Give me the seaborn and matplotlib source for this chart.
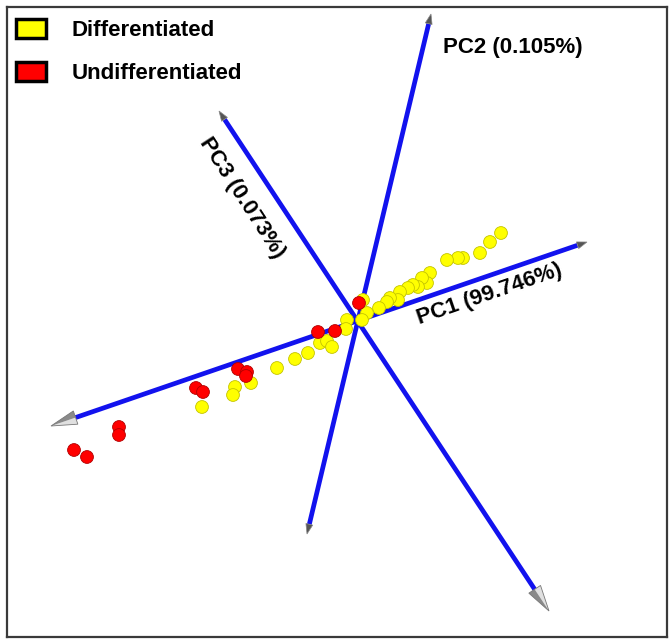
import numpy as np
import pandas as pd
import seaborn as sns
import matplotlib.pyplot as plt
from matplotlib.patches import Patch, Polygon

# --- data: PCA scores projected onto the view plane ---
diff_x = [143, 132, 122, 105, 100, 89, 72, 69, 64, 60, 55, 50, 42, 40, 32, 29, 21, 9, 5, 4,
          -11, -12, -38, -31, -26, -50, -63, -81, -107, -123, -125, -156]
diff_y = [86, 77, 66, 61, 61, 59, 46, 36, 41, 32, 34, 31, 27, 19, 21, 17, 11, 6, 19, -1,
          -1, -10, -24, -22, -28, -34, -40, -49, -64, -68, -76, -88]
undiff_x = [1, -40, -23, -120, -111, -112, -162, -155, -239, -239, -284, -271]
undiff_y = [16, -13, -12, -50, -53, -57, -69, -73, -108, -116, -131, -138]

groups = ["Differentiated", "Undifferentiated"]
group_colors = ["#ffff00", "#ff0000"]

# principal axes: label, positive tip, negative tip (projected)
axis_labels = ["PC1 (99.746%)", "PC2 (0.105%)", "PC3 (0.073%)"]
axis_pos = [(229, 77), (73, 305), (-139, 208)]
axis_neg = [(-307, -107), (-51, -215), (191, -292)]
big_head = [(False, True), (False, False), (False, True)]  # (pos end, neg end)

df = pd.DataFrame({
    "x": diff_x + undiff_x,
    "y": diff_y + undiff_y,
    "group": [groups[0]] * len(diff_x) + [groups[1]] * len(undiff_x),
})

fig = plt.figure(figsize=(6.72, 6.42), dpi=100)
sns.set_theme(style="white")
plt.rcParams["font.family"] = ["Liberation Sans", "DejaVu Sans"]
plt.rcParams["text.color"] = "black"
ax = fig.add_axes([7 / 672, 5 / 642, 660 / 672, 630 / 642])


def arrow_head(tip, direction, length, width, big):
    d = np.asarray(direction, float)
    d /= np.linalg.norm(d)
    n = np.array([-d[1], d[0]]) * width / 2
    tip = np.asarray(tip, float)
    base = tip - d * length
    if big:
        ax.add_patch(Polygon([tip, base + n, base], closed=True, fc="#e0e0e0", ec="none", zorder=3))
        ax.add_patch(Polygon([tip, base, base - n], closed=True, fc="#8a8a8a", ec="none", zorder=3))
        ax.add_patch(Polygon([tip, base + n, base - n], closed=True, fc="none", ec="#777777", lw=0.6, zorder=3))
    else:
        ax.add_patch(Polygon([tip, base + n, base - n], closed=True, fc="#555555", ec="#888888", lw=0.5, zorder=3))
    return base


for lab, p, q, (bp, bq) in zip(axis_labels, axis_pos, axis_neg, big_head):
    p = np.array(p, float)
    q = np.array(q, float)
    end_p = arrow_head(p, p - q, 26 if bp else 10, 14 if bp else 7, bp)
    end_q = arrow_head(q, q - p, 26 if bq else 10, 14 if bq else 7, bq)
    ax.plot([end_q[0], end_p[0]], [end_q[1], end_p[1]], color="#1212ee", lw=3.4,
            solid_capstyle="butt", zorder=1)

sns.scatterplot(data=df, x="x", y="y", hue="group", palette=dict(zip(groups, group_colors)),
                s=85, edgecolor=["#c4c400"] * len(diff_x) + ["#b00000"] * len(undiff_x),
                linewidth=0.6, legend=False, ax=ax, zorder=4)

# axis labels
ax.text(132, 25, axis_labels[0], rotation=19, rotation_mode="anchor", ha="center", va="center",
        fontsize=16, fontweight="bold", color="black")
ax.text(155, 272, axis_labels[1], ha="center", va="center", fontsize=16, fontweight="bold",
        color="black")
ax.text(-116, 121, axis_labels[2], rotation=-57, rotation_mode="anchor", ha="center", va="center",
        fontsize=16, fontweight="bold", color="black")

handles = [Patch(facecolor=c, edgecolor="black", linewidth=2.5, label=g)
           for g, c in zip(groups, group_colors)]
leg = ax.legend(handles=handles, loc="upper left", bbox_to_anchor=(0.013, 0.981), frameon=False,
                prop={"weight": "bold", "size": 16}, handlelength=1.35, handleheight=0.95,
                handletextpad=1.15, labelspacing=0.93, borderpad=0, borderaxespad=0)
for t in leg.get_texts():
    t.set_color("black")

ax.set_xlim(-351, 309)
ax.set_ylim(-318, 312)
ax.set_xticks([])
ax.set_yticks([])
ax.set_xlabel("")
ax.set_ylabel("")
for sp in ax.spines.values():
    sp.set_color("#3a3a3a")
    sp.set_linewidth(1.6)

fig.savefig("out.png", dpi=100)
